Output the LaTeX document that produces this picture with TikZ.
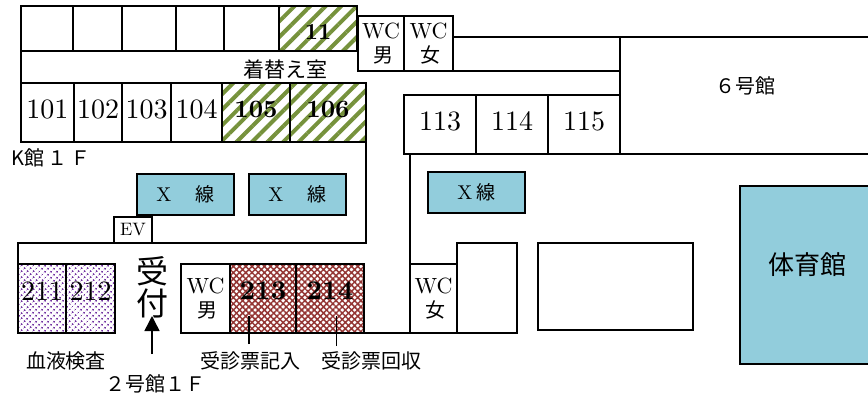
\documentclass[tikz,border=0pt]{standalone}
\usepackage{fontspec}
\usetikzlibrary{positioning,arrows.meta,patterns.meta}
\setmainfont{lmroman10-regular.otf}[BoldFont=lmroman10-bold.otf]
\newfontfamily\jp{Noto Sans CJK JP}
\newcommand{\fs}[1]{\fontsize{#1}{#1}\selectfont}
\definecolor{xray}{HTML}{92CDDC}
\definecolor{stripegreen}{HTML}{76923C}
\definecolor{checkred}{HTML}{943634}
\definecolor{dotpurple}{HTML}{7030A0}
\tikzset{
  room/.style={draw, line width=1.5pt, inner sep=0pt, outer sep=0pt, minimum height=59pt},
  numrm/.style={room, font=\fs{28}, text height=17pt, text depth=5pt},
  toprm/.style={room, minimum height=45pt},
  wcrm/.style={room, font=\fs{22}, align=center, minimum height=55pt},
  xrm/.style={room, fill=xray, font=\fs{20}, minimum width=97pt, minimum height=41pt},
  green/.style={pattern={Lines[angle=45,distance=11pt,line width=4pt]}, pattern color=stripegreen, font=\fs{25}\bfseries, text depth=8pt},
  red/.style={pattern={Hatch[angle=45,distance=4.4pt,line width=1.5pt]}, pattern color=checkred, font=\fs{27}\bfseries, text depth=16pt},
  purple/.style={pattern={Dots[radius=1.2pt,distance=4pt,angle=45]}, pattern color=dotpurple, text depth=13pt},
  caption/.style={font=\fs{20}\jp, inner sep=0pt},
  wall/.style={line width=1.5pt}
}
\begin{document}
\begin{tikzpicture}[x=1pt,y=-1pt]
  \useasboundingbox (0,0) rectangle (868,394);
  % upper row
  \node[toprm, minimum width=52pt, anchor=north west] (t1) at (21,6) {};
  \node[toprm, minimum width=49pt, right=0pt of t1] (t2) {};
  \node[toprm, minimum width=54pt, right=0pt of t2] (t3) {};
  \node[toprm, minimum width=48pt, right=0pt of t3] (t4) {};
  \node[toprm, minimum width=55pt, right=0pt of t4] (t5) {};
  \node[toprm, green, font=\fs{23}\bfseries, text height=21pt, text depth=0pt, minimum width=78pt, right=0pt of t5] (r11) {11};
  \node[wcrm, minimum width=46pt, anchor=north west] (wcm1) at (358,16) {WC\\[2pt]{\jp\fs{20} 男}};
  \node[wcrm, minimum width=49pt, right=0pt of wcm1] (wcw1) {WC\\[2pt]{\jp\fs{20} 女}};
  \node[caption, font=\fs{21}\jp] (dress) at (285,69) {着替え室};
  % K wing rooms
  \node[numrm, minimum width=53pt, anchor=north west] (r101) at (21,83) {101};
  \node[numrm, minimum width=48pt, right=0pt of r101] (r102) {102};
  \node[numrm, minimum width=49pt, right=0pt of r102] (r103) {103};
  \node[numrm, minimum width=51pt, right=0pt of r103] (r104) {104};
  \node[numrm, green, minimum width=68pt, right=0pt of r104] (r105) {105};
  \node[numrm, green, minimum width=76pt, right=0pt of r105] (r106) {106};
  \node[caption] (kwing) at (51,158) {K館\,１\,Ｆ};
  % X-ray rooms
  \node[xrm, anchor=north west] (x1) at (137,174) {X\hspace{20pt}{\jp\fs{19} 線}};
  \node[xrm, anchor=north west] (x2) at (249,174) {X\hspace{20pt}{\jp\fs{19} 線}};
  \node[xrm, anchor=north west] (x3) at (428,172) {X{\jp\fs{19} 線}};
  \node[room, font=\fs{18}, minimum width=38pt, minimum height=26pt, anchor=north west] (ev) at (114,217) {EV};
  % building 2
  \node[numrm, purple, minimum width=48pt, minimum height=69pt, anchor=north west] (r211) at (18,264) {211};
  \node[numrm, purple, minimum width=49pt, minimum height=69pt, right=0pt of r211] (r212) {212};
  \node[inner sep=0pt, font=\fs{32}\jp, align=center] (recep) at (152,287) {受\\付};
  \node[wcrm, minimum width=49pt, minimum height=69pt, anchor=north west] (wcm2) at (181,264) {WC\\[2pt]{\jp\fs{20} 男}};
  \node[numrm, red, minimum width=66pt, minimum height=69pt, right=0pt of wcm2] (r213) {213};
  \node[numrm, red, minimum width=68pt, minimum height=69pt, right=0pt of r213] (r214) {214};
  \node[wcrm, minimum width=47pt, minimum height=69pt, anchor=north west] (wcw2) at (410,264) {WC\\[2pt]{\jp\fs{20} 女}};
  \node[room, minimum width=60pt, minimum height=90pt, anchor=north west] (r2e) at (457,243) {};
  \node[room, minimum width=155pt, minimum height=87pt, anchor=north west] (blank) at (538,243) {};
  % east side
  \node[numrm, minimum width=72pt, anchor=north west] (r113) at (404,95) {113};
  \node[numrm, minimum width=72pt, right=0pt of r113] (r114) {114};
  \node[numrm, minimum width=72pt, right=0pt of r114] (r115) {115};
  \node[caption] (b6) at (745,86) {６号館};
  \node[room, fill=xray, minimum width=140pt, minimum height=178pt, anchor=north west] (gym) at (740,186) {};
  \node[inner sep=0pt, font=\fs{26}\jp] (gymtext) at (807,265) {体育館};
  % captions and pointers
  \node[caption] (blood) at (66,361) {血液検査};
  \node[caption] (fill) at (250,361) {受診票記入};
  \node[caption] (collect) at (371,361) {受診票回収};
  \node[caption] (b2) at (155,384) {２号館１Ｆ};
  \coordinate (arrowend) at (152,354);
  \coordinate (arrowtip) at (152,316);
  \coordinate (fillend) at (249,344);
  \coordinate (filltop) at (249,316);
  \coordinate (collectend) at (336.5,346);
  \coordinate (collecttop) at (336.5,316);
  \draw[wall, -{Triangle[length=15pt,width=15pt]}] (arrowend) -- (arrowtip);
  \draw[wall] (fillend) -- (filltop);
  \draw[wall] (collectend) -- (collecttop);
  % walls
  \draw[wall] (21,51) -- (21,83);
  \draw[wall] (r106.south east) -- (r106.south east |- ev.south) -- (r211.north west |- ev.south) -- (r211.north west);
  \draw[wall] (wcw2.north west |- r113.south) -- (wcw2.north west);
  \draw[wall] (r214.south east) -- (wcw2.south west);
  \draw[wall] (wcw1.east |- 0,37) -- (868,37);
  \draw[wall] (wcw1.south east) -- (r115.east |- wcw1.south);
  \draw[wall] (r115.east |- 0,37) -- (r115.north east);
  \draw[wall] (r115.south east) -- (868,154);
\end{tikzpicture}
\end{document}
